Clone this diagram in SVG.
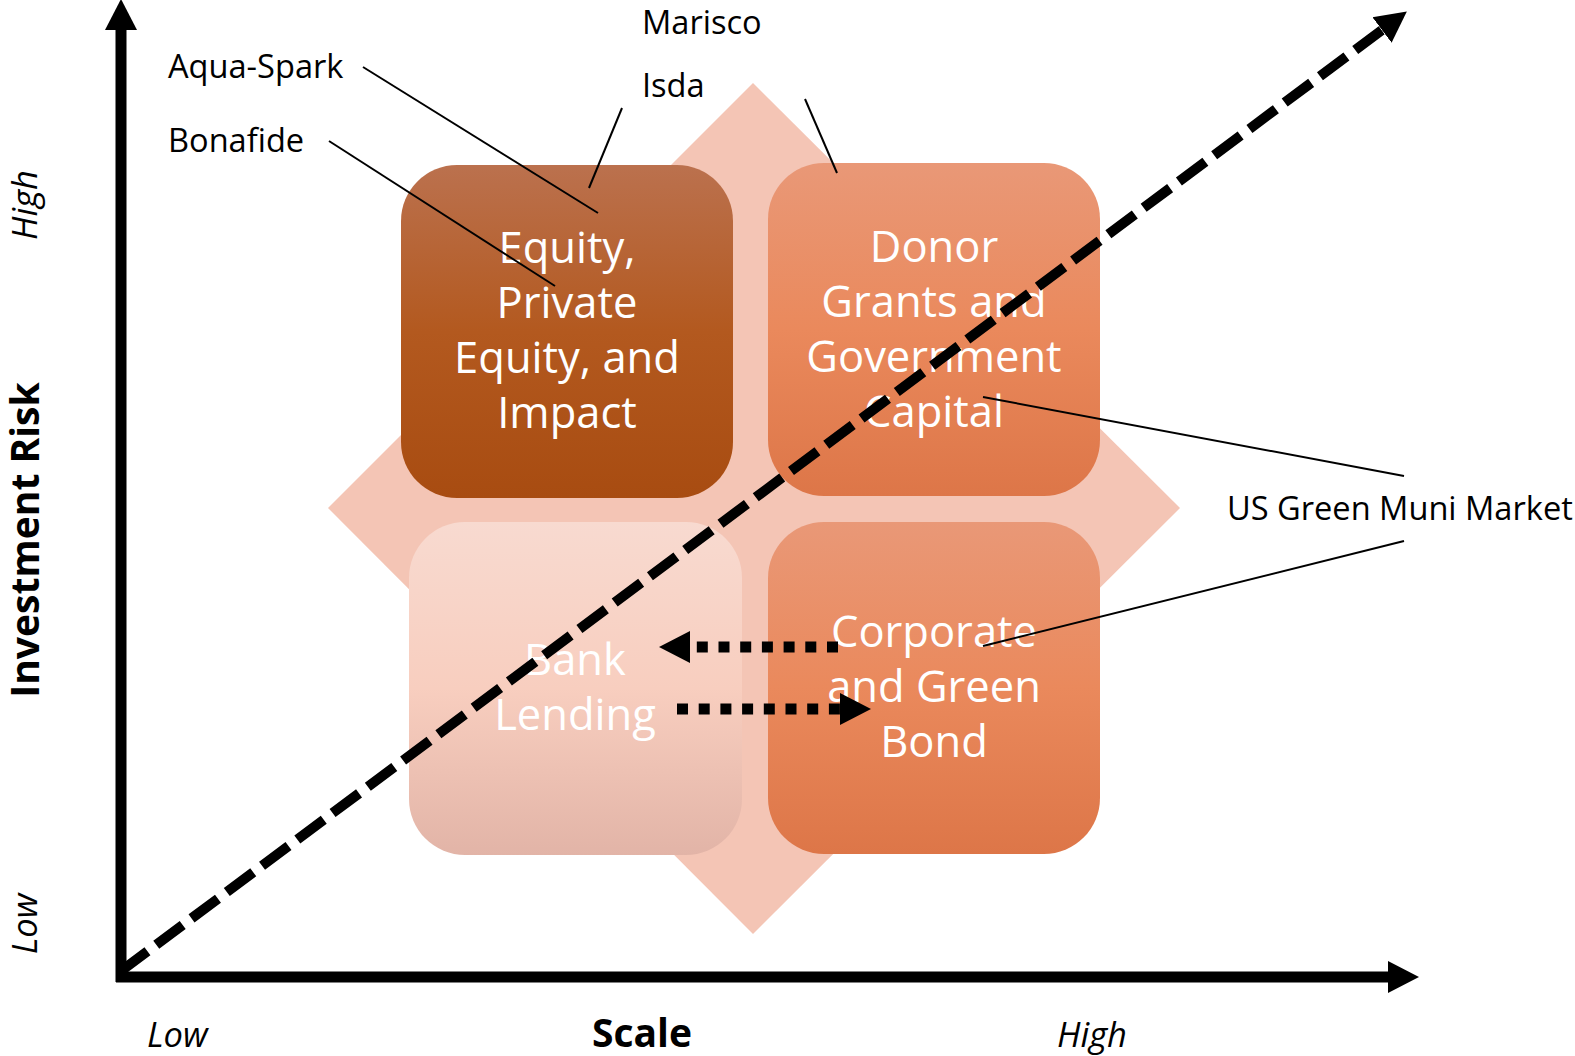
<svg xmlns="http://www.w3.org/2000/svg" width="1575" height="1056" viewBox="0 0 1575 1056">
  <defs>
    <style>
      .box-text { font-family: "Open Sans", "Noto Sans", sans-serif; font-size: 43.5px; fill: #FFFFFF; text-anchor: middle; }
      .label { font-family: "Open Sans", "Noto Sans", sans-serif; font-size: 32.6px; fill: #000000; }
      .axis-title { font-family: "Open Sans", "Noto Sans", sans-serif; font-size: 39px; font-weight: bold; fill: #000000; text-anchor: middle; }
      .axis-tick { font-family: "Open Sans", "Noto Sans", sans-serif; font-size: 34.5px; font-style: italic; fill: #000000; }
      .leader { stroke: #000000; stroke-width: 2; fill: none; }
      .axis { stroke: #000000; stroke-width: 11; fill: none; }
      .trend { stroke: #000000; stroke-width: 10; fill: none; stroke-dasharray: 33 11; }
      .flow { stroke: #000000; stroke-width: 11; fill: none; stroke-dasharray: 11 10.7; }
    </style>
    <linearGradient id="grad-equity" x1="0" y1="0" x2="0" y2="1">
      <stop offset="0" stop-color="#BB714E"/>
      <stop offset="0.5" stop-color="#B3591F"/>
      <stop offset="1" stop-color="#A84C11"/>
    </linearGradient>
    <linearGradient id="grad-orange" x1="0" y1="0" x2="0" y2="1">
      <stop offset="0" stop-color="#E99877"/>
      <stop offset="0.5" stop-color="#EA895C"/>
      <stop offset="1" stop-color="#DD7648"/>
    </linearGradient>
    <linearGradient id="grad-bank" x1="0" y1="0" x2="0" y2="1">
      <stop offset="0" stop-color="#F8DAD0"/>
      <stop offset="0.5" stop-color="#F8CEBF"/>
      <stop offset="1" stop-color="#E2B4A7"/>
    </linearGradient>
    <marker id="head" markerUnits="userSpaceOnUse" markerWidth="40" markerHeight="40" viewBox="0 -20 40 40" refX="0" refY="0" orient="auto">
      <path d="M0,-16 L31,0 L0,16 Z" fill="#000000"/>
    </marker>
  </defs>

  <!-- background diamond -->
  <g id="diamond">
    <polygon points="753,83 1180,508 753,934 328,508" fill="#F4C5B5"/>
  </g>

  <!-- quadrant nodes -->
  <g id="node-equity">
    <rect x="401" y="165" width="332" height="333" rx="56" ry="56" fill="url(#grad-equity)"/>
    <text class="box-text" x="567" y="263">Equity,</text>
    <text class="box-text" x="567" y="318">Private</text>
    <text class="box-text" x="567" y="373">Equity, and</text>
    <text class="box-text" x="567" y="428">Impact</text>
  </g>
  <g id="node-donor">
    <rect x="768" y="163" width="332" height="333" rx="56" ry="56" fill="url(#grad-orange)"/>
    <text class="box-text" x="934" y="262">Donor</text>
    <text class="box-text" x="934" y="317">Grants and</text>
    <text class="box-text" x="934" y="372">Government</text>
    <text class="box-text" x="934" y="427">Capital</text>
  </g>
  <g id="node-bank">
    <rect x="409" y="522" width="333" height="333" rx="56" ry="56" fill="url(#grad-bank)"/>
    <text class="box-text" x="575" y="675">Bank</text>
    <text class="box-text" x="575" y="730">Lending</text>
  </g>
  <g id="node-corporate">
    <rect x="768" y="522" width="332" height="332" rx="56" ry="56" fill="url(#grad-orange)"/>
    <text class="box-text" x="934" y="647">Corporate</text>
    <text class="box-text" x="934" y="702">and Green</text>
    <text class="box-text" x="934" y="757">Bond</text>
  </g>

  <!-- example labels -->
  <g id="label-aqua-spark"><text class="label" x="168" y="78">Aqua-Spark</text></g>
  <g id="label-bonafide"><text class="label" x="168" y="152">Bonafide</text></g>
  <g id="label-marisco"><text class="label" x="642" y="34">Marisco</text></g>
  <g id="label-isda"><text class="label" x="642" y="97">Isda</text></g>
  <g id="label-us-green-muni"><text class="label" x="1227" y="520">US Green Muni Market</text></g>

  <!-- axis titles and ticks -->
  <g id="axis-labels">
    <text class="axis-title" transform="translate(39,540) rotate(-90)">Investment Risk</text>
    <text class="axis-title" x="642" y="1047">Scale</text>
    <text class="axis-tick" x="147" y="1047">Low</text>
    <text class="axis-tick" x="1057" y="1047">High</text>
    <text class="axis-tick" text-anchor="middle" transform="translate(37,205) rotate(-90)">High</text>
    <text class="axis-tick" text-anchor="middle" transform="translate(37,924) rotate(-90)">Low</text>
  </g>

  <!-- connectors -->
  <g id="connectors">
    <line class="leader" x1="363" y1="67" x2="598" y2="213"/>
    <line class="leader" x1="329" y1="141" x2="555" y2="286"/>
    <line class="leader" x1="622" y1="108" x2="589" y2="188"/>
    <line class="leader" x1="805" y1="99" x2="837" y2="173"/>
    <line class="leader" x1="983" y1="397" x2="1404" y2="476"/>
    <line class="leader" x1="983" y1="646" x2="1404" y2="541"/>

    <line class="flow" x1="838" y1="647" x2="690" y2="647" marker-end="url(#head)"/>
    <line class="flow" x1="677" y1="709" x2="840" y2="709" marker-end="url(#head)"/>

    <line class="trend" x1="121" y1="971" x2="1382" y2="30" marker-end="url(#head)"/>

    <line class="axis" x1="121" y1="982" x2="121" y2="30" marker-end="url(#head)"/>
    <line class="axis" x1="116" y1="977" x2="1388" y2="977" marker-end="url(#head)"/>
  </g>
</svg>
